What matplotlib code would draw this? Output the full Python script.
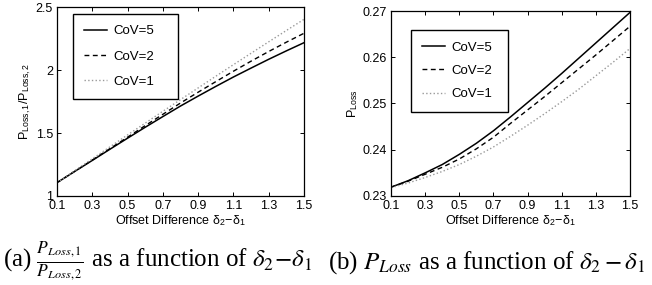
import matplotlib
matplotlib.use('Agg')
import matplotlib.pyplot as plt

plt.rcParams['font.family'] = 'Liberation Sans'
plt.rcParams['mathtext.fontset'] = 'stix'

# offset difference delta_2 - delta_1
offset = [0.1, 0.2, 0.3, 0.4, 0.5, 0.6, 0.7, 0.8, 0.9, 1.0, 1.1, 1.2, 1.3, 1.4, 1.5]

# (a) P_Loss,1 / P_Loss,2
ratio_cov5 = [1.106, 1.195, 1.283, 1.372, 1.460, 1.547, 1.632, 1.716, 1.795, 1.872,
              1.947, 2.018, 2.088, 2.155, 2.220]
ratio_cov2 = [1.106, 1.196, 1.286, 1.377, 1.468, 1.560, 1.650, 1.740, 1.826, 1.910,
              1.993, 2.073, 2.150, 2.224, 2.295]
ratio_cov1 = [1.106, 1.201, 1.296, 1.391, 1.486, 1.580, 1.674, 1.767, 1.860, 1.953,
              2.045, 2.136, 2.227, 2.317, 2.406]

# (b) P_Loss
ploss_cov5 = [0.2319, 0.2333, 0.2350, 0.2368, 0.2390, 0.2414, 0.2441, 0.2471, 0.2502,
              0.2533, 0.2565, 0.2598, 0.2631, 0.2664, 0.2697]
ploss_cov2 = [0.2319, 0.2332, 0.2347, 0.2362, 0.2380, 0.2402, 0.2427, 0.2457, 0.2486,
              0.2515, 0.2545, 0.2575, 0.2605, 0.2636, 0.2667]
ploss_cov1 = [0.2318, 0.2328, 0.2340, 0.2353, 0.2368, 0.2386, 0.2406, 0.2429, 0.2453,
              0.2478, 0.2504, 0.2531, 0.2560, 0.2589, 0.2619]

labels = ['CoV=5', 'CoV=2', 'CoV=1']
xticks = [0.1, 0.3, 0.5, 0.7, 0.9, 1.1, 1.3, 1.5]
yticks_a = [1, 1.5, 2, 2.5]
yticks_b = [0.23, 0.24, 0.25, 0.26, 0.27]

styles = [dict(color='black', linestyle='-', linewidth=1.1),
          dict(color='black', linestyle=(0, (3.5, 2.5)), linewidth=1.0),
          dict(color='0.6', linestyle=':', linewidth=1.0)]


def style_axes(ax, yticks):
    ax.set_xlim(0.1, 1.5)
    ax.set_xticks(xticks)
    ax.set_xticklabels([str(t) for t in xticks])
    ax.set_ylim(yticks[0], yticks[-1])
    ax.set_yticks(yticks)
    ax.set_yticklabels([('%g' % t) for t in yticks])
    ax.tick_params(direction='in', top=True, right=True, length=3, width=0.7,
                   labelsize=9, pad=3)
    for s in ax.spines.values():
        s.set_linewidth(0.9)
    ax.set_xlabel(r'Offset Difference δ$_\mathregular{2}$−δ$_\mathregular{1}$',
                  fontsize=9, labelpad=1)


fig = plt.figure(figsize=(6.52, 2.85), dpi=100)
ax1 = fig.add_axes([0.0874, 0.3123, 0.3789, 0.6614])
ax2 = fig.add_axes([0.5997, 0.3123, 0.3666, 0.6491])

for y, lab, st in zip([ratio_cov5, ratio_cov2, ratio_cov1], labels, styles):
    ax1.plot(offset, y, label=lab, **st)
for y, lab, st in zip([ploss_cov5, ploss_cov2, ploss_cov1], labels, styles):
    ax2.plot(offset, y, label=lab, **st)

style_axes(ax1, yticks_a)
style_axes(ax2, yticks_b)
ax1.set_ylabel(r'P$_\mathregular{Loss,1}$/P$_\mathregular{Loss,2}$', fontsize=9, labelpad=2)
ax2.set_ylabel(r'P$_\mathregular{Loss}$', fontsize=9, labelpad=2)

# legend boxes: (x0, y0, width, height) in axes coords, plus row spacing
legend_boxes = [(ax1, (0.065, 0.552, 0.425, 0.414), 0.98),
                (ax2, (0.084, 0.486, 0.406, 0.411), 0.85)]
for ax, box, spacing in legend_boxes:
    leg = ax.legend(loc='upper left', bbox_to_anchor=box, mode='expand', borderaxespad=0,
                    fontsize=9.5, handlelength=1.7, handletextpad=0.5,
                    labelspacing=spacing, borderpad=0.85, fancybox=False,
                    framealpha=1, edgecolor='black')
    leg.get_frame().set_linewidth(1.0)

cap = dict(fontsize=18, family='Liberation Serif', math_fontfamily='stix', va='center')
fig.text(0.004, 0.08, r'(a) $\frac{P_{Loss,1}}{P_{Loss,2}}$ as a function of $\delta_2\!-\!\delta_1$', **cap)
fig.text(0.503, 0.08, r'(b) $P_{Loss}$ as a function of $\delta_2 - \delta_1$', **cap)

fig.savefig('out.png', dpi=100)
